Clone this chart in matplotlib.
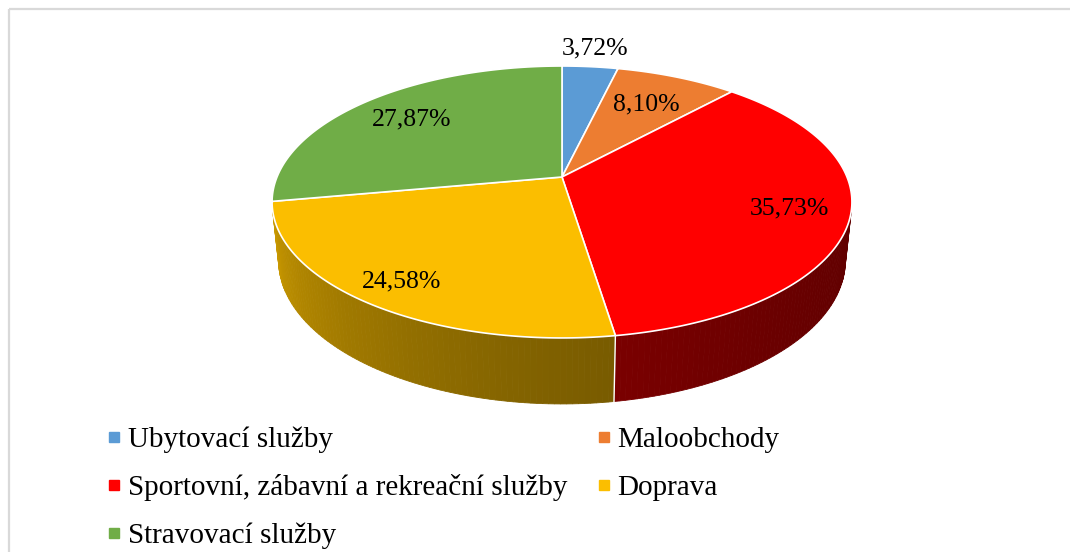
import numpy as np
import matplotlib.pyplot as plt
from matplotlib.patches import Polygon, Rectangle
from matplotlib.lines import Line2D

# data
categories = ['Ubytovací služby', 'Maloobchody', 'Sportovní, zábavní a rekreační služby',
              'Doprava', 'Stravovací služby']
values = [3.72, 8.10, 35.73, 24.58, 27.87]
labels = ['3,72%', '8,10%', '35,73%', '24,58%', '27,87%']
colors = ['#5B9BD5', '#ED7D31', '#FF0000', '#FBBE00', '#70AD47']
label_r = [1.2, 0.7, 0.8, 0.85, 0.75]

plt.rcParams['font.family'] = ['Liberation Serif', 'DejaVu Serif']

# simple perspective camera for the 3d pie (pixel space)
cx, cy = 562, 177
elev = np.radians(27.45)
dist = 4.83
focal = 1376.5
height = 0.233


def project(theta, r=1.0, z=0.0):
    t = np.radians(theta)
    x = r * np.cos(t)
    y = r * np.sin(t)
    depth = y * np.cos(elev) - z * np.sin(elev) + dist
    up = y * np.sin(elev) + z * np.cos(elev)
    return cx + focal * x / depth, cy - focal * up / depth


def shade(color, theta):
    th = ((theta + 180) % 360) - 180
    k = 0.38 + 0.49 * (min(-th, 180) / 180) ** 2
    rgb = np.array(plt.matplotlib.colors.to_rgb(color))
    return tuple(np.clip(rgb * k, 0, 1))


fig = plt.figure(figsize=(10.7, 5.52), dpi=100)
ax = fig.add_axes([0, 0, 1, 1])
ax.set_xlim(0, 1070)
ax.set_ylim(552, 0)
ax.axis('off')

# chart border
ax.add_patch(Rectangle((8.5, 8.5), 1200, 700, fill=False, edgecolor='#D9D9D9', lw=1.6))

cum = np.concatenate([[0], np.cumsum(values)]) / sum(values) * 100
starts = 90 - 3.6 * cum[:-1]
ends = 90 - 3.6 * cum[1:]

# side wall (only the part that faces the camera)
limit = -1 / (dist * np.cos(elev))
for a0, a1, col in zip(starts, ends, colors):
    n = max(int(abs(a1 - a0)), 2)
    angs = np.linspace(a0, a1, n + 1)
    for t0, t1 in zip(angs[:-1], angs[1:]):
        if np.sin(np.radians((t0 + t1) / 2)) >= limit:
            continue
        p = [project(t0), project(t1), project(t1, z=-height), project(t0, z=-height)]
        c = shade(col, (t0 + t1) / 2)
        ax.add_patch(Polygon(p, closed=True, facecolor=c, edgecolor=c, lw=0.6))

# white seam on the wall between slices
for a in starts:
    if np.sin(np.radians(a)) < limit:
        xs, ys = zip(project(a), project(a, z=-height))
        ax.plot(xs, ys, color='white', lw=1.0)

# top faces
for a0, a1, col in zip(starts, ends, colors):
    angs = np.linspace(a0, a1, 200)
    pts = [project(0, r=0)] + [project(a) for a in angs]
    ax.add_patch(Polygon(pts, closed=True, facecolor=col, edgecolor='white', lw=1.2,
                         joinstyle='round'))

# data labels
for a0, a1, lab, r in zip(starts, ends, labels, label_r):
    x, y = project((a0 + a1) / 2, r=r)
    ax.text(x, y, lab, ha='center', va='center', fontsize=18.5, color='black')

# legend, row-wise like the original
order = [0, 2, 4, 1, 3]
handles = [Line2D([], [], marker='s', linestyle='none', markersize=6.5,
                  markerfacecolor=colors[i], markeredgecolor=colors[i]) for i in order]
fig.legend(handles, [categories[i] for i in order], ncol=2, frameon=False,
           loc='upper left', bbox_to_anchor=(92 / 1070, 1 - 412 / 552),
           fontsize=21, handlelength=0.5, handletextpad=0.23,
           columnspacing=0.99, labelspacing=0.73, borderpad=0)

fig.savefig('out.png', dpi=100)
